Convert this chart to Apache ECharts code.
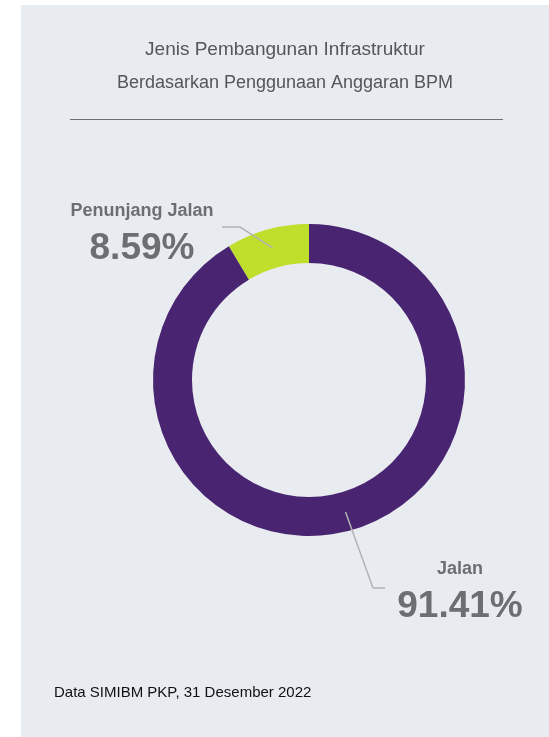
<!DOCTYPE html>
<html>
    <head>
        <meta charset="utf-8">
        <title>Jenis Pembangunan Infrastruktur</title>
        <script src="https://cdn.jsdelivr.net/npm/echarts@6/dist/echarts.min.js"></script>
        <style>
            html, body { margin: 0; padding: 0; background: #ffffff; }
            #chart1 { width: 549px; height: 737px; }
        </style>
    </head>
    <body>
        <div id="chart1"></div>
        <script>
            // data
            var categories = ['Penunjang Jalan', 'Jalan'];
            var shares = [8.59, 91.41];
            var colors = ['#bedf2b', '#482471'];

            // layout of the ring (px)
            var cx = 309, cy = 380, rIn = 117, rOut = 156;
            // where each label sits, and the elbow of its line
            var labelPos = [[142, 199], [460, 557]];
            var elbow = [[[240, 227], [222, 227]], [[373, 588], [385, 588]]];

            var total = shares.reduce(function (a, b) { return a + b; }, 0);
            function midAngle(i) {
                var before = 0;
                for (var k = 0; k < i; k++) before += shares[k];
                return (90 + (before + shares[i] / 2) / total * 360) * Math.PI / 180;
            }

            var labelFont = '"Liberation Sans Narrow", "Arial Narrow", "Liberation Sans", Arial, sans-serif';
            function pieData(fill) {
                return categories.map(function (c, i) {
                    return { name: c, value: shares[i], itemStyle: { color: fill || colors[i] } };
                });
            }

            var myChart = echarts.init(document.getElementById('chart1'));
            myChart.setOption({
                animation: false,
                graphic: [
                    { type: 'rect', shape: { x: 21, y: 5, width: 528, height: 732 }, style: { fill: '#e8ebf0' }, silent: true, z: -10 },
                    { type: 'text', x: 285, y: 50, style: { text: 'Jenis Pembangunan Infrastruktur', fill: '#555659', font: '19px "Liberation Sans", Arial, sans-serif', textAlign: 'center', textVerticalAlign: 'middle' } },
                    { type: 'text', x: 285, y: 83, style: { text: 'Berdasarkan Penggunaan Anggaran BPM', fill: '#555659', font: '18px "Liberation Sans", Arial, sans-serif', textAlign: 'center', textVerticalAlign: 'middle' } },
                    { type: 'line', shape: { x1: 70, y1: 119.5, x2: 503, y2: 119.5 }, style: { stroke: '#6d6e71', lineWidth: 1 } },
                    { type: 'text', x: 54, y: 693, style: { text: 'Data SIMIBM PKP, 31 Desember 2022', fill: '#111111', font: '15px "Liberation Sans", Arial, sans-serif', textAlign: 'left', textVerticalAlign: 'middle' } }
                ],
                series: [{
                    // the coloured ring
                    type: 'pie',
                    center: [cx, cy],
                    radius: [rIn, rOut],
                    startAngle: 90,
                    clockwise: false,
                    silent: true,
                    z: 2,
                    data: pieData(),
                    label: { show: false },
                    labelLine: { show: false }
                }, {
                    // same ring, see-through, only for labels so the guide lines sit on top
                    type: 'pie',
                    center: [cx, cy],
                    radius: [rIn, rOut],
                    startAngle: 90,
                    clockwise: false,
                    silent: true,
                    z: 5,
                    data: pieData('rgba(0,0,0,0)'),
                    label: {
                        show: true,
                        formatter: function (p) {
                            return '{n|' + p.name + '}\n{v|' + p.value.toFixed(2) + '%}';
                        },
                        align: 'center',
                        rich: {
                            n: { fontFamily: labelFont, fontWeight: 'bold', fontSize: 18, lineHeight: 24, color: '#6d6e71', align: 'center' },
                            v: { fontFamily: labelFont, fontWeight: 'bold', fontSize: 37, lineHeight: 52, color: '#6d6e71', align: 'center' }
                        }
                    },
                    labelLine: { show: true, lineStyle: { color: '#b3b3b3', width: 1.5 } },
                    labelLayout: function (params) {
                        var i = params.dataIndex;
                        var a = midAngle(i);
                        var start = [cx + 137 * Math.cos(a), cy - 137 * Math.sin(a)];
                        return {
                            x: labelPos[i][0],
                            y: labelPos[i][1],
                            align: 'center',
                            verticalAlign: 'top',
                            labelLinePoints: [start, elbow[i][0], elbow[i][1]]
                        };
                    }
                }]
            });
        </script>
    </body>
</html>
